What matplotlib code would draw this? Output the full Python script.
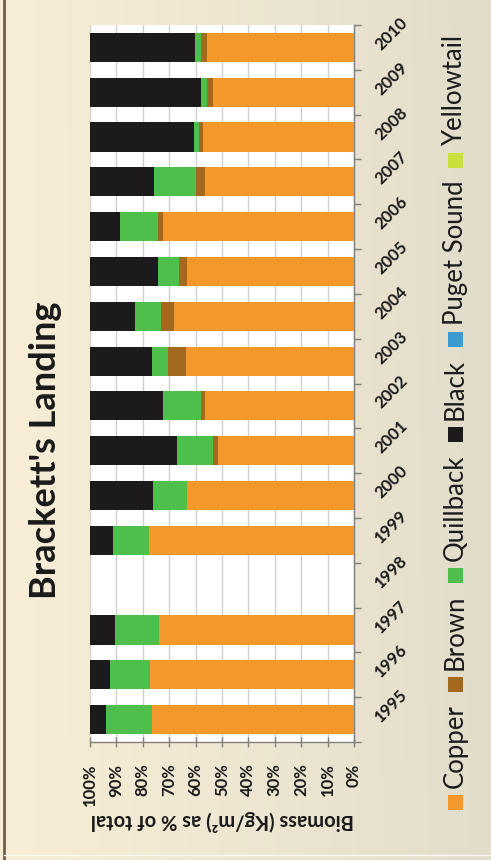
import numpy as np
import matplotlib
matplotlib.use("Agg")
import matplotlib.pyplot as plt
from matplotlib.patches import Rectangle
from matplotlib.lines import Line2D

plt.rcParams['font.family'] = ['Lato', 'DejaVu Sans']

# ---- data -------------------------------------------------------------
years = [str(y) for y in range(1995, 2011)]
copper     = [76.6, 77.3, 73.7, 0, 77.7, 63.1, 51.4, 56.4, 63.6, 68.1, 63.1, 72.2, 56.3, 57.1, 53.3, 55.7]
brown      = [0.0, 0.0, 0.0, 0, 0.0, 0.0, 2.1, 1.6, 6.7, 5.0, 3.0, 1.9, 3.5, 1.5, 2.5, 2.4]
quillback  = [17.4, 15.2, 17.0, 0, 13.7, 13.1, 13.4, 14.4, 6.3, 9.8, 8.3, 14.5, 15.9, 2.0, 2.3, 2.2]
black      = [5.9, 7.6, 9.2, 0, 8.6, 23.7, 33.1, 27.5, 23.4, 17.0, 25.5, 11.4, 24.2, 39.4, 41.9, 39.8]
puget      = [0.0] * 16
yellowtail = [0.0] * 16

series_names = ["Copper", "Brown", "Quillback", "Black", "Puget Sound", "Yellowtail"]
series_values = [copper, brown, quillback, black, puget, yellowtail]
series_colors = ["#f5982c", "#a2691f", "#4dbf4a", "#1c1a1a", "#3a9bd2", "#c9df3c"]

pct_ticks = [100, 90, 80, 70, 60, 50, 40, 30, 20, 10, 0]
pct_labels = [f"{t}%" for t in pct_ticks]
title = "Brackett's Landing"
value_label = "Biomass (Kg/m\u00b2) as % of total"

# ---- figure -----------------------------------------------------------
W, H = 491, 860
fig = plt.figure(figsize=(W / 100, H / 100), dpi=100)


def fx(x):
    return x / W


def fy(y):
    return 1 - y / H


# warm paper-like backdrop
bg = fig.add_axes([0, 0, 1, 1], zorder=0)
gx = np.linspace(0, 1, 256)[None, :]
gy = np.linspace(0, 1, 256)[:, None]
c_left = np.array([248, 238, 215]) / 255
c_right = np.array([226, 221, 203]) / 255
t = np.clip(gx ** 1.1 + 0.05 * (1 - gy) * gx, 0, 1)
img = c_left[None, None, :] * (1 - t[..., None]) + c_right[None, None, :] * t[..., None]
bg.imshow(img, extent=[0, 1, 0, 1], aspect='auto', origin='upper')
bg.set_xlim(0, 1)
bg.set_ylim(0, 1)
bg.axis('off')
bg.add_line(Line2D([fx(3.5), fx(3.5)], [0, 1], color='#6e5e4f', lw=2))
bg.add_line(Line2D([fx(4), 1], [fy(855), fy(855)], color='#fbf8ef', lw=1))

# ---- stacked bars ----------------------------------------------------
ax = fig.add_axes([fx(90), fy(742), fx(354) - fx(90), fy(25) - fy(742)], zorder=1)
ax.set_facecolor('white')
pos = np.arange(len(years))
left = np.zeros(len(years))
for name, vals, col in zip(series_names, series_values, series_colors):
    v = np.array(vals, dtype=float)
    ax.barh(pos, v, left=left, height=0.65, color=col, edgecolor='none', zorder=3)
    left += v

ax.set_xlim(100, 0)
ax.set_ylim(-0.5, len(years) - 0.5)
ax.set_xticks(pct_ticks)
ax.set_xticklabels(pct_labels, rotation=90, ha='center', va='top',
                   fontweight='bold', fontsize=12, color='#1a1a1a')
ax.tick_params(axis='x', direction='inout', length=7, width=1, color='#808080', pad=12)
ax.xaxis.grid(True, color='#d0d0d0', lw=1)
ax.set_axisbelow(True)

ax.yaxis.tick_right()
ax.set_yticks(pos)
ax.set_yticklabels(years, rotation=45, rotation_mode='anchor', ha='left', va='center',
                   fontweight='bold', fontsize=12, color='#1a1a1a')
ax.set_yticks(np.arange(-0.5, len(years)), minor=True)
ax.tick_params(axis='y', which='major', length=0, pad=17)
ax.tick_params(axis='y', which='minor', length=5, width=1, direction='out', color='#808080')
for s in ('top', 'left'):
    ax.spines[s].set_visible(False)
for s in ('right', 'bottom'):
    ax.spines[s].set_color('#808080')
    ax.spines[s].set_linewidth(1)

# ---- titles -----------------------------------------------------------
fig.text(fx(46), fy(450), title, rotation=90, ha='center', va='center',
         fontsize=26, fontweight='bold', color='#1a1a1a')
fig.text(fx(222), fy(821), value_label, rotation=180, ha='center', va='center',
         fontsize=14.5, fontweight='bold', color='#1a1a1a')

# ---- legend (reads bottom to top) ------------------------------------
renderer = fig.canvas.get_renderer()
y = 810.0
sq = 15
legend_x = 455
for name, col in zip(series_names, series_colors):
    fig.patches.append(Rectangle((fx(legend_x - sq / 2), fy(y)), sq / W, sq / H,
                                 transform=fig.transFigure, facecolor=col,
                                 edgecolor='none', figure=fig))
    y -= sq + 7
    txt = fig.text(fx(legend_x), fy(y), name, rotation=90, ha='center', va='bottom',
                   fontsize=18.5, color='#1a1a1a')
    ext = txt.get_window_extent(renderer)
    y -= ext.height + 12

fig.savefig("out.png", dpi=100)
